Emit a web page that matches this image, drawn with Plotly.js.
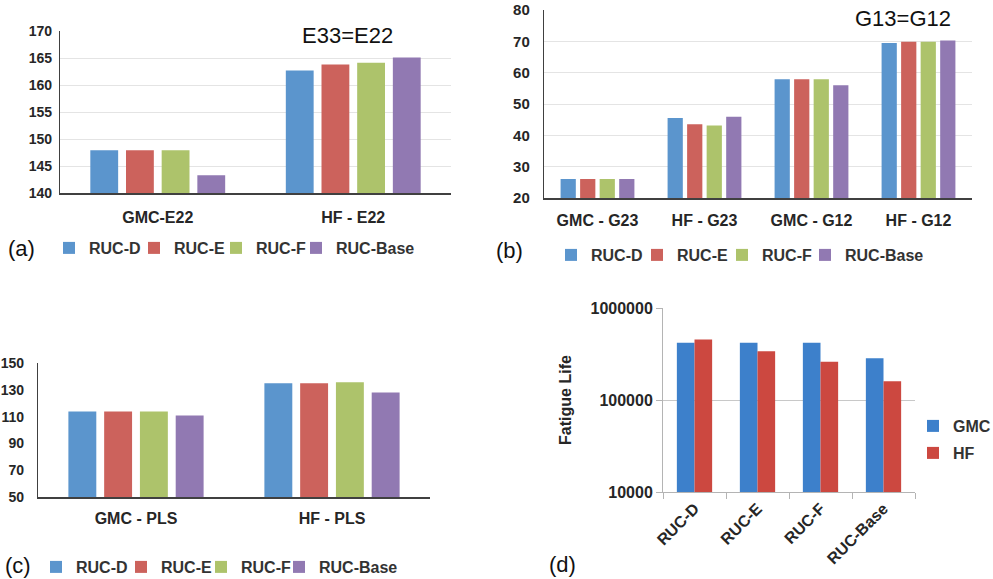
<!DOCTYPE html>
<html>
<head>
<meta charset="utf-8">
<script src="https://cdn.plot.ly/plotly-3.0.1.min.js"></script>
<style>html,body{margin:0;padding:0;background:#fff}#chart{width:993px;height:579px}</style>
</head>
<body>
<div id="chart"></div>
<script>
// ---- data ----
const seriesNames = ['RUC-D', 'RUC-E', 'RUC-F', 'RUC-Base'];

const catsA = ['GMC-E22', 'HF - E22'];
const aD = [147.9, 162.7];
const aE = [147.9, 163.8];
const aF = [147.9, 164.1];
const aBase = [143.3, 165.1];

const catsB = ['GMC - G23', 'HF - G23', 'GMC - G12', 'HF - G12'];
const bD = [26.1, 45.5, 57.9, 69.5];
const bE = [26.1, 43.5, 57.9, 69.9];
const bF = [26.1, 43.1, 57.9, 69.9];
const bBase = [26.1, 45.9, 56.0, 70.3];

const catsC = ['GMC - PLS', 'HF - PLS'];
const cD = [113.8, 134.9];
const cE = [113.8, 134.9];
const cF = [113.8, 135.6];
const cBase = [110.8, 127.9];

const catsD = ['RUC-D', 'RUC-E', 'RUC-F', 'RUC-Base'];
const dGMC = [419000, 419000, 419000, 284000];
const dHF = [455000, 338000, 261000, 160000];
const dTickVals = [10000, 100000, 1000000];
const dTickText = ['10000', '100000', '1000000'];

// ---- styles ----
const FONT = 'Liberation Sans, Arial, sans-serif';
const colors = ['#5b95cd', '#cc625c', '#adc36b', '#9179b2'];
const W = 993, H = 579;
const px = v => v / W;
const py = v => (H - v) / H;

const bold = (s, c) => ({family: FONT, size: s, color: c || '#262626', weight: 'bold'});

const traces = [];
const layout = {
  width: W, height: H, margin: {l: 0, r: 0, t: 0, b: 0, autoexpand: false},
  paper_bgcolor: '#fff', plot_bgcolor: '#fff',
  font: {family: FONT},
  barmode: 'group', bargap: 0.27, bargroupgap: 0.22,
  showlegend: true
};

// one legend per entry so each entry sits where the reference has it
let legendCount = 0;
function newLegend(x, y) {
  legendCount += 1;
  const id = legendCount === 1 ? 'legend' : 'legend' + legendCount;
  layout[id] = {orientation: 'h', x: px(x), y: py(y), xref: 'container', yref: 'container',
    xanchor: 'left', yanchor: 'middle', font: bold(16, '#333'),
    bgcolor: 'rgba(0,0,0,0)', itemwidth: 30};
  return id;
}

function addGroup(cats, arrs, xa, ya, legendX, legendY) {
  arrs.forEach((vals, i) => {
    traces.push({
      type: 'bar', x: cats, y: vals, name: seriesNames[i],
      xaxis: xa, yaxis: ya, legend: newLegend(legendX[i], legendY),
      marker: {color: colors[i], line: {width: 0}}
    });
  });
}
addGroup(catsA, [aD, aE, aF, aBase], 'x', 'y', [49, 134, 216, 296], 248);
addGroup(catsB, [bD, bE, bF, bBase], 'x2', 'y2', [551, 637, 722, 805], 255);
addGroup(catsC, [cD, cE, cF, cBase], 'x3', 'y3', [36, 121, 201, 279], 567);

traces.push({type: 'bar', x: catsD, y: dGMC, name: 'GMC', xaxis: 'x4', yaxis: 'y4',
  legend: newLegend(913, 426), width: 0.28, offset: -0.28, marker: {color: '#3d80cb'}});
traces.push({type: 'bar', x: catsD, y: dHF, name: 'HF', xaxis: 'x4', yaxis: 'y4',
  legend: newLegend(913, 453), width: 0.28, offset: 0, marker: {color: '#cc4840'}});

function catAxis(domain, anchor, fs, standoff) {
  return {domain: domain, anchor: anchor, type: 'category', showline: true,
    linecolor: '#404040', linewidth: 1.5, ticks: '', tickfont: bold(fs), showgrid: false,
    zeroline: false, ticklabelstandoff: standoff, fixedrange: true};
}
function valAxis(domain, anchor, range, dtick, fs, grid, standoff) {
  return {domain: domain, anchor: anchor, range: range, dtick: dtick, tick0: range[0],
    showline: true, linecolor: '#404040', linewidth: 1.2, ticks: '',
    tickfont: bold(fs), showgrid: grid, gridcolor: '#e4e4e4', gridwidth: 1,
    zeroline: false, ticklabelstandoff: standoff, fixedrange: true};
}

Object.assign(layout, {
  xaxis: catAxis([px(60), px(451)], 'y', 16, 9),
  yaxis: valAxis([py(193), py(31)], 'x', [140, 170], 5, 14, true, 4),

  xaxis2: catAxis([px(544), px(972)], 'y2', 16, 7),
  yaxis2: valAxis([py(198), py(10)], 'x2', [20, 80], 10, 15, true, 10),

  xaxis3: catAxis([px(38), px(430)], 'y3', 16, 6),
  yaxis3: valAxis([py(497), py(363)], 'x3', [50, 150], 20, 14, false, 10),

  xaxis4: {domain: [px(663), px(915)], anchor: 'y4', type: 'category', showline: true,
    linecolor: '#b4b4b4', linewidth: 1, ticks: 'outside', tickson: 'boundaries',
    ticklen: 6, tickcolor: '#b4b4b4', tickangle: -45, tickfont: bold(16),
    showgrid: false, zeroline: false, fixedrange: true},
  yaxis4: {domain: [py(492), py(308)], anchor: 'x4', type: 'log', range: [4, 6],
    tickvals: dTickVals, ticktext: dTickText, showline: true, linecolor: '#b4b4b4',
    ticks: 'outside', ticklen: 6, tickcolor: '#b4b4b4', tickfont: bold(16),
    ticklabelstandoff: 0,
    showgrid: true, gridcolor: '#c8c8c8', zeroline: false, fixedrange: true,
    title: {text: 'Fatigue Life', font: bold(16), standoff: 14}},

  shapes: [
    {type: 'rect', xref: 'paper', yref: 'paper', x0: px(290), x1: px(440), y0: py(45), y1: py(22),
      fillcolor: '#fff', line: {width: 0}, layer: 'above'},
    {type: 'rect', xref: 'paper', yref: 'paper', x0: px(842), x1: px(978), y0: py(30), y1: py(3),
      fillcolor: '#fff', line: {width: 0}, layer: 'above'}
  ],
  annotations: [
    {text: 'E33=E22', xref: 'paper', yref: 'paper', x: px(347), y: py(35), showarrow: false,
      xanchor: 'center', yanchor: 'middle', font: {family: FONT, size: 22, color: '#111'}},
    {text: 'G13=G12', xref: 'paper', yref: 'paper', x: px(903), y: py(18), showarrow: false,
      xanchor: 'center', yanchor: 'middle', font: {family: FONT, size: 22, color: '#111'}},
    {text: '(a)', xref: 'paper', yref: 'paper', x: px(21), y: py(248), showarrow: false,
      xanchor: 'center', yanchor: 'middle', font: {family: FONT, size: 22, color: '#111'}},
    {text: '(b)', xref: 'paper', yref: 'paper', x: px(509), y: py(250), showarrow: false,
      xanchor: 'center', yanchor: 'middle', font: {family: FONT, size: 22, color: '#111'}},
    {text: '(c)', xref: 'paper', yref: 'paper', x: px(18), y: py(565), showarrow: false,
      xanchor: 'center', yanchor: 'middle', font: {family: FONT, size: 22, color: '#111'}},
    {text: '(d)', xref: 'paper', yref: 'paper', x: px(562), y: py(564), showarrow: false,
      xanchor: 'center', yanchor: 'middle', font: {family: FONT, size: 22, color: '#111'}}
  ]
});

Plotly.newPlot('chart', traces, layout, {displayModeBar: false, staticPlot: true});
</script>
</body>
</html>
